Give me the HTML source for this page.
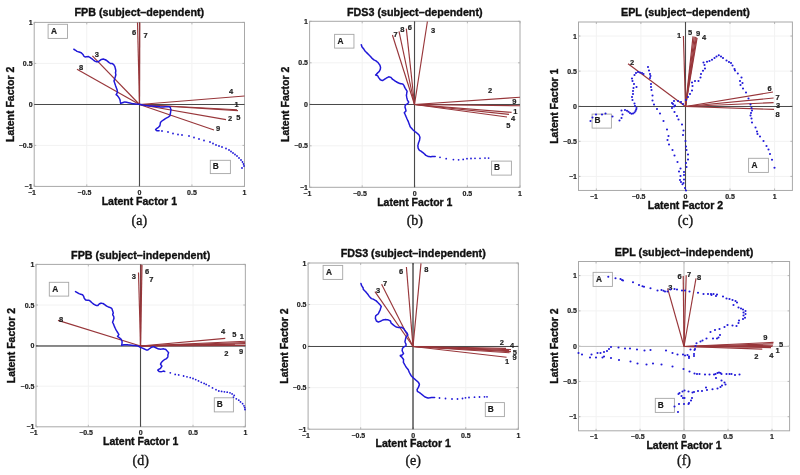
<!DOCTYPE html>
<html><head><meta charset="utf-8"><style>html,body{margin:0;padding:0;background:#fff;}svg{display:block;filter:blur(0.3px);}text{font-family:"Liberation Sans", sans-serif;} .b{stroke:#111;stroke-width:0.35px;} .t{stroke:#222;stroke-width:0.2px;}</style></head><body>
<svg width="800" height="475" viewBox="0 0 800 475">
<rect width="800" height="475" fill="#fff"/>
<g><line x1="86.78" y1="22.4" x2="86.78" y2="186.4" stroke="#f2f2f2" stroke-width="1"/><line x1="34.2" y1="145.4" x2="244.5" y2="145.4" stroke="#f2f2f2" stroke-width="1"/><line x1="139.35" y1="22.4" x2="139.35" y2="186.4" stroke="#f2f2f2" stroke-width="1"/><line x1="34.2" y1="104.4" x2="244.5" y2="104.4" stroke="#f2f2f2" stroke-width="1"/><line x1="191.93" y1="22.4" x2="191.93" y2="186.4" stroke="#f2f2f2" stroke-width="1"/><line x1="34.2" y1="63.4" x2="244.5" y2="63.4" stroke="#f2f2f2" stroke-width="1"/><rect x="34.2" y="22.4" width="210.3" height="164" fill="none" stroke="#a8a8a8" stroke-width="1"/><line x1="34.2" y1="186.4" x2="34.2" y2="184.4" stroke="#a8a8a8" stroke-width="0.8"/><line x1="34.2" y1="22.4" x2="34.2" y2="24.4" stroke="#a8a8a8" stroke-width="0.8"/><line x1="34.2" y1="186.4" x2="36.2" y2="186.4" stroke="#a8a8a8" stroke-width="0.8"/><line x1="244.5" y1="186.4" x2="242.5" y2="186.4" stroke="#a8a8a8" stroke-width="0.8"/><line x1="86.78" y1="186.4" x2="86.78" y2="184.4" stroke="#a8a8a8" stroke-width="0.8"/><line x1="86.78" y1="22.4" x2="86.78" y2="24.4" stroke="#a8a8a8" stroke-width="0.8"/><line x1="34.2" y1="145.4" x2="36.2" y2="145.4" stroke="#a8a8a8" stroke-width="0.8"/><line x1="244.5" y1="145.4" x2="242.5" y2="145.4" stroke="#a8a8a8" stroke-width="0.8"/><line x1="139.35" y1="186.4" x2="139.35" y2="184.4" stroke="#a8a8a8" stroke-width="0.8"/><line x1="139.35" y1="22.4" x2="139.35" y2="24.4" stroke="#a8a8a8" stroke-width="0.8"/><line x1="34.2" y1="104.4" x2="36.2" y2="104.4" stroke="#a8a8a8" stroke-width="0.8"/><line x1="244.5" y1="104.4" x2="242.5" y2="104.4" stroke="#a8a8a8" stroke-width="0.8"/><line x1="191.93" y1="186.4" x2="191.93" y2="184.4" stroke="#a8a8a8" stroke-width="0.8"/><line x1="191.93" y1="22.4" x2="191.93" y2="24.4" stroke="#a8a8a8" stroke-width="0.8"/><line x1="34.2" y1="63.4" x2="36.2" y2="63.4" stroke="#a8a8a8" stroke-width="0.8"/><line x1="244.5" y1="63.4" x2="242.5" y2="63.4" stroke="#a8a8a8" stroke-width="0.8"/><line x1="244.5" y1="186.4" x2="244.5" y2="184.4" stroke="#a8a8a8" stroke-width="0.8"/><line x1="244.5" y1="22.4" x2="244.5" y2="24.4" stroke="#a8a8a8" stroke-width="0.8"/><line x1="34.2" y1="22.4" x2="36.2" y2="22.4" stroke="#a8a8a8" stroke-width="0.8"/><line x1="244.5" y1="22.4" x2="242.5" y2="22.4" stroke="#a8a8a8" stroke-width="0.8"/><text class="t" x="31.9" y="194.9" font-size="7" font-weight="bold" text-anchor="middle" fill="#222">−1</text><text class="t" x="32.6" y="188.9" font-size="7" font-weight="bold" text-anchor="end" fill="#222">−1</text><text class="t" x="84.48" y="194.9" font-size="7" font-weight="bold" text-anchor="middle" fill="#222">−0.5</text><text class="t" x="32.6" y="147.9" font-size="7" font-weight="bold" text-anchor="end" fill="#222">−0.5</text><text class="t" x="139.35" y="194.9" font-size="7" font-weight="bold" text-anchor="middle" fill="#222">0</text><text class="t" x="32.6" y="106.9" font-size="7" font-weight="bold" text-anchor="end" fill="#222">0</text><text class="t" x="191.93" y="194.9" font-size="7" font-weight="bold" text-anchor="middle" fill="#222">0.5</text><text class="t" x="32.6" y="65.9" font-size="7" font-weight="bold" text-anchor="end" fill="#222">0.5</text><text class="t" x="244.5" y="194.9" font-size="7" font-weight="bold" text-anchor="middle" fill="#222">1</text><text class="t" x="32.6" y="24.9" font-size="7" font-weight="bold" text-anchor="end" fill="#222">1</text><rect x="48.1" y="24.3" width="19.4" height="14.1" fill="none" stroke="#a5a5a5" stroke-width="0.9"/><text class="t" x="51" y="33.65" font-size="8.3" font-weight="bold" fill="#1a1a1a">A</text><rect x="210.3" y="160.3" width="20.1" height="13.3" fill="none" stroke="#a5a5a5" stroke-width="0.9"/><text class="t" x="212.8" y="169.25" font-size="8.3" font-weight="bold" fill="#1a1a1a">B</text><line x1="34.2" y1="104.5" x2="244.5" y2="104.5" stroke="#4a4a4a" stroke-width="1.1"/><line x1="139.5" y1="22.4" x2="139.5" y2="186.4" stroke="#4a4a4a" stroke-width="1.1"/><line x1="139.5" y1="104.5" x2="92.4" y2="55.9" stroke="#98363a" stroke-width="1.15"/><line x1="139.5" y1="104.5" x2="77" y2="69.2" stroke="#98363a" stroke-width="1.15"/><line x1="139.5" y1="104.5" x2="137.5" y2="22.5" stroke="#98363a" stroke-width="1.15"/><line x1="139.5" y1="104.5" x2="139.8" y2="22.5" stroke="#98363a" stroke-width="1.15"/><line x1="139.5" y1="104.5" x2="244.5" y2="96" stroke="#98363a" stroke-width="1.15"/><line x1="139.5" y1="104.5" x2="237" y2="109.8" stroke="#98363a" stroke-width="1.15"/><line x1="139.5" y1="104.5" x2="238" y2="110.6" stroke="#98363a" stroke-width="1.15"/><line x1="139.5" y1="104.5" x2="226" y2="119.6" stroke="#98363a" stroke-width="1.15"/><line x1="139.5" y1="104.5" x2="214" y2="130" stroke="#98363a" stroke-width="1.15"/><text class="t" x="96.8" y="57.1" font-size="7.5" font-weight="bold" text-anchor="middle" fill="#222">3</text><text class="t" x="81.2" y="70.1" font-size="7.5" font-weight="bold" text-anchor="middle" fill="#222">8</text><text class="t" x="134" y="34.7" font-size="7.5" font-weight="bold" text-anchor="middle" fill="#222">6</text><text class="t" x="145.6" y="37.7" font-size="7.5" font-weight="bold" text-anchor="middle" fill="#222">7</text><text class="t" x="231" y="93.7" font-size="7.5" font-weight="bold" text-anchor="middle" fill="#222">4</text><text class="t" x="236.6" y="106.7" font-size="7.5" font-weight="bold" text-anchor="middle" fill="#222">1</text><text class="t" x="238.4" y="119.5" font-size="7.5" font-weight="bold" text-anchor="middle" fill="#222">5</text><text class="t" x="230" y="121.1" font-size="7.5" font-weight="bold" text-anchor="middle" fill="#222">2</text><text class="t" x="218" y="131.3" font-size="7.5" font-weight="bold" text-anchor="middle" fill="#222">9</text><polyline points="73.85,49.25 75.6,50.3 77,51.35 79.1,52.05 81.2,52.75 82.95,54.5 84,56.25 85.05,56.95 86.8,56.75 88.55,56.6 90.3,57.65 91.7,58.7 93.1,59.75 94.85,61.15 96.6,61.85 98.35,61.85 99.4,60.8 101.15,59.55 103.25,59.05 105.35,59.75 107.1,60.8 108.85,62.35 110.6,63.6 112.35,63.6 113.75,64.65 114.8,66.4 115.35,68.5 115.85,70.95 115.5,72.7 115.85,74.8 115.4,76.5 114.6,79 114,81 114.7,83.1 115.4,85.2 116.45,88 117.15,90.1 117.5,92.2 116.1,94.65 117.5,95.7 118.55,97.1 119.95,99.55 120.3,101.65 120.65,103.4 122.4,102.7 124.5,102 127.3,102.35 130.1,103.05 132.9,103.75 136.4,104.1 139.2,104.3 143,105.05 146.5,105.6 150,105.95 153.5,106.15 157,106.45 160.5,107 163.3,107 166.1,106.65 168.9,106.65 170.3,107.35 171,109.8 170.65,111.9 170.3,114 169.95,115.75 168.2,117.15 166.1,118.2 164,119.6 161.9,121 160.5,122.4 160.15,124.5 159.8,125.9 158.4,127.3 156.3,128.7 155.6,129.75 157,130.8 159.1,130.8" fill="none" stroke="#2018d8" stroke-width="1.5" stroke-dasharray="2.4 0.6" stroke-linejoin="round" stroke-linecap="round"/><circle cx="162" cy="131" r="0.9" fill="#2018d8"/><circle cx="168" cy="132" r="0.9" fill="#2018d8"/><circle cx="173" cy="133.5" r="0.9" fill="#2018d8"/><circle cx="178" cy="134.5" r="0.9" fill="#2018d8"/><circle cx="182" cy="135" r="0.9" fill="#2018d8"/><circle cx="189" cy="136" r="0.9" fill="#2018d8"/><circle cx="194" cy="137.5" r="0.9" fill="#2018d8"/><circle cx="199" cy="139" r="0.9" fill="#2018d8"/><circle cx="204" cy="140.5" r="0.9" fill="#2018d8"/><circle cx="210" cy="142" r="0.9" fill="#2018d8"/><circle cx="213" cy="143.5" r="0.9" fill="#2018d8"/><circle cx="216" cy="145" r="0.9" fill="#2018d8"/><circle cx="219" cy="146" r="0.9" fill="#2018d8"/><circle cx="222" cy="147" r="0.9" fill="#2018d8"/><circle cx="226" cy="148.5" r="0.9" fill="#2018d8"/><circle cx="229" cy="150" r="0.9" fill="#2018d8"/><circle cx="231" cy="151.5" r="0.9" fill="#2018d8"/><circle cx="233" cy="153" r="0.9" fill="#2018d8"/><circle cx="235" cy="154.5" r="0.9" fill="#2018d8"/><circle cx="237" cy="156" r="0.9" fill="#2018d8"/><circle cx="239" cy="158" r="0.9" fill="#2018d8"/><circle cx="241" cy="160" r="0.9" fill="#2018d8"/><circle cx="242.5" cy="162" r="0.9" fill="#2018d8"/><circle cx="243.5" cy="164" r="0.9" fill="#2018d8"/><circle cx="244" cy="166" r="0.9" fill="#2018d8"/><circle cx="242" cy="168" r="0.9" fill="#2018d8"/><text class="b" x="139.35" y="15.8" font-size="10.75" font-weight="bold" text-anchor="middle" fill="#111">FPB (subject–dependent)</text><text class="b" x="139.35" y="205" font-size="10.5" font-weight="bold" text-anchor="middle" fill="#111">Latent Factor 1</text><text class="b" x="0" y="0" transform="translate(14.3,104.4) rotate(-90)" font-size="10.5" font-weight="bold" text-anchor="middle" fill="#111">Latent Factor 2</text><text class="b" x="139.35" y="225" font-size="14" text-anchor="middle" fill="#1a1a1a" style="font-family:'Liberation Serif', serif">(a)</text></g>
<g><line x1="362.2" y1="21.3" x2="362.2" y2="187.3" stroke="#f2f2f2" stroke-width="1"/><line x1="309.6" y1="145.8" x2="520" y2="145.8" stroke="#f2f2f2" stroke-width="1"/><line x1="414.8" y1="21.3" x2="414.8" y2="187.3" stroke="#f2f2f2" stroke-width="1"/><line x1="309.6" y1="104.3" x2="520" y2="104.3" stroke="#f2f2f2" stroke-width="1"/><line x1="467.4" y1="21.3" x2="467.4" y2="187.3" stroke="#f2f2f2" stroke-width="1"/><line x1="309.6" y1="62.8" x2="520" y2="62.8" stroke="#f2f2f2" stroke-width="1"/><rect x="309.6" y="21.3" width="210.4" height="166" fill="none" stroke="#a8a8a8" stroke-width="1"/><line x1="309.6" y1="187.3" x2="309.6" y2="185.3" stroke="#a8a8a8" stroke-width="0.8"/><line x1="309.6" y1="21.3" x2="309.6" y2="23.3" stroke="#a8a8a8" stroke-width="0.8"/><line x1="309.6" y1="187.3" x2="311.6" y2="187.3" stroke="#a8a8a8" stroke-width="0.8"/><line x1="520" y1="187.3" x2="518" y2="187.3" stroke="#a8a8a8" stroke-width="0.8"/><line x1="362.2" y1="187.3" x2="362.2" y2="185.3" stroke="#a8a8a8" stroke-width="0.8"/><line x1="362.2" y1="21.3" x2="362.2" y2="23.3" stroke="#a8a8a8" stroke-width="0.8"/><line x1="309.6" y1="145.8" x2="311.6" y2="145.8" stroke="#a8a8a8" stroke-width="0.8"/><line x1="520" y1="145.8" x2="518" y2="145.8" stroke="#a8a8a8" stroke-width="0.8"/><line x1="414.8" y1="187.3" x2="414.8" y2="185.3" stroke="#a8a8a8" stroke-width="0.8"/><line x1="414.8" y1="21.3" x2="414.8" y2="23.3" stroke="#a8a8a8" stroke-width="0.8"/><line x1="309.6" y1="104.3" x2="311.6" y2="104.3" stroke="#a8a8a8" stroke-width="0.8"/><line x1="520" y1="104.3" x2="518" y2="104.3" stroke="#a8a8a8" stroke-width="0.8"/><line x1="467.4" y1="187.3" x2="467.4" y2="185.3" stroke="#a8a8a8" stroke-width="0.8"/><line x1="467.4" y1="21.3" x2="467.4" y2="23.3" stroke="#a8a8a8" stroke-width="0.8"/><line x1="309.6" y1="62.8" x2="311.6" y2="62.8" stroke="#a8a8a8" stroke-width="0.8"/><line x1="520" y1="62.8" x2="518" y2="62.8" stroke="#a8a8a8" stroke-width="0.8"/><line x1="520" y1="187.3" x2="520" y2="185.3" stroke="#a8a8a8" stroke-width="0.8"/><line x1="520" y1="21.3" x2="520" y2="23.3" stroke="#a8a8a8" stroke-width="0.8"/><line x1="309.6" y1="21.3" x2="311.6" y2="21.3" stroke="#a8a8a8" stroke-width="0.8"/><line x1="520" y1="21.3" x2="518" y2="21.3" stroke="#a8a8a8" stroke-width="0.8"/><text class="t" x="307.3" y="195.8" font-size="7" font-weight="bold" text-anchor="middle" fill="#222">−1</text><text class="t" x="308" y="189.8" font-size="7" font-weight="bold" text-anchor="end" fill="#222">−1</text><text class="t" x="359.9" y="195.8" font-size="7" font-weight="bold" text-anchor="middle" fill="#222">−0.5</text><text class="t" x="308" y="148.3" font-size="7" font-weight="bold" text-anchor="end" fill="#222">−0.5</text><text class="t" x="414.8" y="195.8" font-size="7" font-weight="bold" text-anchor="middle" fill="#222">0</text><text class="t" x="308" y="106.8" font-size="7" font-weight="bold" text-anchor="end" fill="#222">0</text><text class="t" x="467.4" y="195.8" font-size="7" font-weight="bold" text-anchor="middle" fill="#222">0.5</text><text class="t" x="308" y="65.3" font-size="7" font-weight="bold" text-anchor="end" fill="#222">0.5</text><text class="t" x="520" y="195.8" font-size="7" font-weight="bold" text-anchor="middle" fill="#222">1</text><text class="t" x="308" y="23.8" font-size="7" font-weight="bold" text-anchor="end" fill="#222">1</text><rect x="334.6" y="34.35" width="19.35" height="13.75" fill="none" stroke="#a5a5a5" stroke-width="0.9"/><text class="t" x="337.5" y="43.52" font-size="8.3" font-weight="bold" fill="#1a1a1a">A</text><rect x="491.6" y="161.1" width="19.8" height="14" fill="none" stroke="#a5a5a5" stroke-width="0.9"/><text class="t" x="494.1" y="170.4" font-size="8.3" font-weight="bold" fill="#1a1a1a">B</text><line x1="309.6" y1="104.5" x2="520" y2="104.5" stroke="#4a4a4a" stroke-width="1.1"/><line x1="414.5" y1="21.3" x2="414.5" y2="187.3" stroke="#4a4a4a" stroke-width="1.1"/><line x1="414.5" y1="104.5" x2="392.4" y2="35" stroke="#98363a" stroke-width="1.15"/><line x1="414.5" y1="104.5" x2="399" y2="31.4" stroke="#98363a" stroke-width="1.15"/><line x1="414.5" y1="104.5" x2="406.3" y2="28.6" stroke="#98363a" stroke-width="1.15"/><line x1="414.5" y1="104.5" x2="427.4" y2="21.5" stroke="#98363a" stroke-width="1.15"/><line x1="414.5" y1="104.5" x2="520" y2="97.2" stroke="#98363a" stroke-width="1.15"/><line x1="414.5" y1="104.5" x2="520" y2="105.8" stroke="#98363a" stroke-width="1.15"/><line x1="414.5" y1="104.5" x2="511.6" y2="112.4" stroke="#98363a" stroke-width="1.15"/><line x1="414.5" y1="104.5" x2="509" y2="114.4" stroke="#98363a" stroke-width="1.15"/><line x1="414.5" y1="104.5" x2="507" y2="117" stroke="#98363a" stroke-width="1.15"/><text class="t" x="395.7" y="36.7" font-size="7.5" font-weight="bold" text-anchor="middle" fill="#222">7</text><text class="t" x="402.4" y="32.4" font-size="7.5" font-weight="bold" text-anchor="middle" fill="#222">8</text><text class="t" x="409.9" y="29.7" font-size="7.5" font-weight="bold" text-anchor="middle" fill="#222">6</text><text class="t" x="433" y="32.7" font-size="7.5" font-weight="bold" text-anchor="middle" fill="#222">3</text><text class="t" x="490" y="92.7" font-size="7.5" font-weight="bold" text-anchor="middle" fill="#222">2</text><text class="t" x="514.3" y="104.4" font-size="7.5" font-weight="bold" text-anchor="middle" fill="#222">9</text><text class="t" x="515.4" y="114.3" font-size="7.5" font-weight="bold" text-anchor="middle" fill="#222">1</text><text class="t" x="513" y="120.7" font-size="7.5" font-weight="bold" text-anchor="middle" fill="#222">4</text><text class="t" x="508.4" y="128.3" font-size="7.5" font-weight="bold" text-anchor="middle" fill="#222">5</text><polyline points="361.3,44.8 362,46.9 363.75,49 364.8,50.75 366.9,52.85 369,54.95 370.75,56.7 372.15,58.45 373.9,59.85 376,60.9 378.1,62.65 379.85,65.1 380.55,67.2 380.3,69.3 379.5,70.9 378.4,72.2 377,73.6 375.6,75 377.7,75.7 378.75,77.8 380.5,79.9 382.6,80.6 384.7,79.2 386.8,77.8 388.9,76.75 391,77.45 392.4,79.2 394.5,80.6 396.6,82 398.7,83 400.8,83.75 402.9,84.1 403.95,85.5 404.65,87.25 405.7,89 407.1,91.1 406.75,93.2 406.4,95.3 406.75,97.4 407.4,100.1 408.8,102.2 407.4,103.95 405.3,105 404.95,107.1 405.65,109.2 406,110.95 404.25,112.7 404.95,114.1 406,116.55 407.05,119 408.1,121.1 409.15,123.9 410.2,126.7 412.6,129.5 415,131.6 416.8,133 418.9,134.75 419.95,137.2 419.6,140 418.55,142.8 417.85,145.6 418.2,148.4 419.25,150.15 421,151.2 423.8,153.3 425.9,155.4 428,156.45 430.8,156.8 432.9,156.45 435.7,156.45" fill="none" stroke="#2018d8" stroke-width="1.5" stroke-dasharray="2.4 0.6" stroke-linejoin="round" stroke-linecap="round"/><circle cx="440" cy="157.3" r="0.9" fill="#2018d8"/><circle cx="446.2" cy="158.7" r="0.9" fill="#2018d8"/><circle cx="453.4" cy="159.6" r="0.9" fill="#2018d8"/><circle cx="458.6" cy="159.8" r="0.9" fill="#2018d8"/><circle cx="463.2" cy="159.4" r="0.9" fill="#2018d8"/><circle cx="467" cy="158.7" r="0.9" fill="#2018d8"/><circle cx="471" cy="158.5" r="0.9" fill="#2018d8"/><circle cx="475" cy="158.3" r="0.9" fill="#2018d8"/><circle cx="480" cy="158.3" r="0.9" fill="#2018d8"/><circle cx="485" cy="158.1" r="0.9" fill="#2018d8"/><circle cx="488.6" cy="158.1" r="0.9" fill="#2018d8"/><text class="b" x="414.8" y="15.8" font-size="10.75" font-weight="bold" text-anchor="middle" fill="#111">FDS3 (subject–dependent)</text><text class="b" x="414.8" y="205.5" font-size="10.5" font-weight="bold" text-anchor="middle" fill="#111">Latent Factor 1</text><text class="b" x="0" y="0" transform="translate(289.3,104.3) rotate(-90)" font-size="10.5" font-weight="bold" text-anchor="middle" fill="#111">Latent Factor 2</text><text class="b" x="414.8" y="225" font-size="14" text-anchor="middle" fill="#1a1a1a" style="font-family:'Liberation Serif', serif">(b)</text></g>
<g><line x1="596.33" y1="22" x2="596.33" y2="190.45" stroke="#f2f2f2" stroke-width="1"/><line x1="578.5" y1="176.41" x2="792.4" y2="176.41" stroke="#f2f2f2" stroke-width="1"/><line x1="640.89" y1="22" x2="640.89" y2="190.45" stroke="#f2f2f2" stroke-width="1"/><line x1="578.5" y1="141.32" x2="792.4" y2="141.32" stroke="#f2f2f2" stroke-width="1"/><line x1="685.45" y1="22" x2="685.45" y2="190.45" stroke="#f2f2f2" stroke-width="1"/><line x1="578.5" y1="106.22" x2="792.4" y2="106.22" stroke="#f2f2f2" stroke-width="1"/><line x1="730.01" y1="22" x2="730.01" y2="190.45" stroke="#f2f2f2" stroke-width="1"/><line x1="578.5" y1="71.13" x2="792.4" y2="71.13" stroke="#f2f2f2" stroke-width="1"/><line x1="774.58" y1="22" x2="774.58" y2="190.45" stroke="#f2f2f2" stroke-width="1"/><line x1="578.5" y1="36.04" x2="792.4" y2="36.04" stroke="#f2f2f2" stroke-width="1"/><rect x="578.5" y="22" width="213.9" height="168.45" fill="none" stroke="#a8a8a8" stroke-width="1"/><line x1="596.33" y1="190.45" x2="596.33" y2="188.45" stroke="#a8a8a8" stroke-width="0.8"/><line x1="596.33" y1="22" x2="596.33" y2="24" stroke="#a8a8a8" stroke-width="0.8"/><line x1="578.5" y1="176.41" x2="580.5" y2="176.41" stroke="#a8a8a8" stroke-width="0.8"/><line x1="792.4" y1="176.41" x2="790.4" y2="176.41" stroke="#a8a8a8" stroke-width="0.8"/><line x1="640.89" y1="190.45" x2="640.89" y2="188.45" stroke="#a8a8a8" stroke-width="0.8"/><line x1="640.89" y1="22" x2="640.89" y2="24" stroke="#a8a8a8" stroke-width="0.8"/><line x1="578.5" y1="141.32" x2="580.5" y2="141.32" stroke="#a8a8a8" stroke-width="0.8"/><line x1="792.4" y1="141.32" x2="790.4" y2="141.32" stroke="#a8a8a8" stroke-width="0.8"/><line x1="685.45" y1="190.45" x2="685.45" y2="188.45" stroke="#a8a8a8" stroke-width="0.8"/><line x1="685.45" y1="22" x2="685.45" y2="24" stroke="#a8a8a8" stroke-width="0.8"/><line x1="578.5" y1="106.22" x2="580.5" y2="106.22" stroke="#a8a8a8" stroke-width="0.8"/><line x1="792.4" y1="106.22" x2="790.4" y2="106.22" stroke="#a8a8a8" stroke-width="0.8"/><line x1="730.01" y1="190.45" x2="730.01" y2="188.45" stroke="#a8a8a8" stroke-width="0.8"/><line x1="730.01" y1="22" x2="730.01" y2="24" stroke="#a8a8a8" stroke-width="0.8"/><line x1="578.5" y1="71.13" x2="580.5" y2="71.13" stroke="#a8a8a8" stroke-width="0.8"/><line x1="792.4" y1="71.13" x2="790.4" y2="71.13" stroke="#a8a8a8" stroke-width="0.8"/><line x1="774.58" y1="190.45" x2="774.58" y2="188.45" stroke="#a8a8a8" stroke-width="0.8"/><line x1="774.58" y1="22" x2="774.58" y2="24" stroke="#a8a8a8" stroke-width="0.8"/><line x1="578.5" y1="36.04" x2="580.5" y2="36.04" stroke="#a8a8a8" stroke-width="0.8"/><line x1="792.4" y1="36.04" x2="790.4" y2="36.04" stroke="#a8a8a8" stroke-width="0.8"/><text class="t" x="594.03" y="198.95" font-size="7" font-weight="bold" text-anchor="middle" fill="#222">−1</text><text class="t" x="576.9" y="178.91" font-size="7" font-weight="bold" text-anchor="end" fill="#222">−1</text><text class="t" x="638.59" y="198.95" font-size="7" font-weight="bold" text-anchor="middle" fill="#222">−0.5</text><text class="t" x="576.9" y="143.82" font-size="7" font-weight="bold" text-anchor="end" fill="#222">−0.5</text><text class="t" x="685.45" y="198.95" font-size="7" font-weight="bold" text-anchor="middle" fill="#222">0</text><text class="t" x="576.9" y="108.72" font-size="7" font-weight="bold" text-anchor="end" fill="#222">0</text><text class="t" x="730.01" y="198.95" font-size="7" font-weight="bold" text-anchor="middle" fill="#222">0.5</text><text class="t" x="576.9" y="73.63" font-size="7" font-weight="bold" text-anchor="end" fill="#222">0.5</text><text class="t" x="774.58" y="198.95" font-size="7" font-weight="bold" text-anchor="middle" fill="#222">1</text><text class="t" x="576.9" y="38.54" font-size="7" font-weight="bold" text-anchor="end" fill="#222">1</text><rect x="748.6" y="158.3" width="19.8" height="14.1" fill="none" stroke="#a5a5a5" stroke-width="0.9"/><text class="t" x="751.5" y="167.65" font-size="8.3" font-weight="bold" fill="#1a1a1a">A</text><rect x="592.1" y="114.1" width="19.3" height="14" fill="none" stroke="#a5a5a5" stroke-width="0.9"/><text class="t" x="594.6" y="123.4" font-size="8.3" font-weight="bold" fill="#1a1a1a">B</text><line x1="578.5" y1="106.5" x2="792.4" y2="106.5" stroke="#4a4a4a" stroke-width="1.1"/><line x1="685.5" y1="22" x2="685.5" y2="190.45" stroke="#4a4a4a" stroke-width="1.1"/><line x1="685.5" y1="106.5" x2="683.4" y2="36" stroke="#98363a" stroke-width="1.15"/><line x1="685.5" y1="106.5" x2="693" y2="36.4" stroke="#98363a" stroke-width="1.15"/><line x1="685.5" y1="106.5" x2="694.2" y2="36.6" stroke="#98363a" stroke-width="1.15"/><line x1="685.5" y1="106.5" x2="695.4" y2="36.8" stroke="#98363a" stroke-width="1.15"/><line x1="685.5" y1="106.5" x2="696.3" y2="37.3" stroke="#98363a" stroke-width="1.15"/><line x1="685.5" y1="106.5" x2="697.1" y2="37.9" stroke="#98363a" stroke-width="1.15"/><line x1="685.5" y1="106.5" x2="628" y2="63.75" stroke="#98363a" stroke-width="1.15"/><line x1="685.5" y1="106.5" x2="773" y2="92" stroke="#98363a" stroke-width="1.15"/><line x1="685.5" y1="106.5" x2="773.6" y2="98" stroke="#98363a" stroke-width="1.15"/><line x1="685.5" y1="106.5" x2="773.6" y2="102.6" stroke="#98363a" stroke-width="1.15"/><line x1="685.5" y1="106.5" x2="774" y2="109.4" stroke="#98363a" stroke-width="1.15"/><text class="t" x="679" y="37.7" font-size="7.5" font-weight="bold" text-anchor="middle" fill="#222">1</text><text class="t" x="690.1" y="35.3" font-size="7.5" font-weight="bold" text-anchor="middle" fill="#222">5</text><text class="t" x="698" y="36.45" font-size="7.5" font-weight="bold" text-anchor="middle" fill="#222">9</text><text class="t" x="704" y="40.2" font-size="7.5" font-weight="bold" text-anchor="middle" fill="#222">4</text><text class="t" x="632" y="64.7" font-size="7.5" font-weight="bold" text-anchor="middle" fill="#222">2</text><text class="t" x="769.6" y="90.7" font-size="7.5" font-weight="bold" text-anchor="middle" fill="#222">6</text><text class="t" x="777.6" y="100.3" font-size="7.5" font-weight="bold" text-anchor="middle" fill="#222">7</text><text class="t" x="778" y="108.3" font-size="7.5" font-weight="bold" text-anchor="middle" fill="#222">3</text><text class="t" x="777.6" y="116.7" font-size="7.5" font-weight="bold" text-anchor="middle" fill="#222">8</text><circle cx="590.5" cy="121" r="1.05" fill="#2018d8"/><circle cx="592.5" cy="117.5" r="1.05" fill="#2018d8"/><circle cx="596" cy="114.5" r="1.05" fill="#2018d8"/><circle cx="602" cy="114.5" r="1.05" fill="#2018d8"/><circle cx="605.5" cy="113.5" r="1.05" fill="#2018d8"/><circle cx="612.5" cy="116.5" r="1.05" fill="#2018d8"/><circle cx="619.5" cy="120.5" r="1.05" fill="#2018d8"/><circle cx="621.5" cy="118" r="1.05" fill="#2018d8"/><circle cx="622.5" cy="114.5" r="1.05" fill="#2018d8"/><circle cx="621.5" cy="110.5" r="1.05" fill="#2018d8"/><circle cx="625" cy="110" r="1.05" fill="#2018d8"/><circle cx="627" cy="110.8" r="1.05" fill="#2018d8"/><circle cx="628.5" cy="111.8" r="1.05" fill="#2018d8"/><circle cx="630" cy="113" r="1.05" fill="#2018d8"/><circle cx="631.5" cy="113.8" r="1.05" fill="#2018d8"/><circle cx="633" cy="113.5" r="1.05" fill="#2018d8"/><circle cx="634.5" cy="112.5" r="1.05" fill="#2018d8"/><circle cx="635.5" cy="111" r="1.05" fill="#2018d8"/><circle cx="636.2" cy="109.5" r="1.05" fill="#2018d8"/><circle cx="636.5" cy="108" r="1.05" fill="#2018d8"/><circle cx="635" cy="106" r="1.05" fill="#2018d8"/><circle cx="634.5" cy="103.5" r="1.05" fill="#2018d8"/><circle cx="632.5" cy="100" r="1.05" fill="#2018d8"/><circle cx="632" cy="97" r="1.05" fill="#2018d8"/><circle cx="633" cy="94" r="1.05" fill="#2018d8"/><circle cx="633" cy="91" r="1.05" fill="#2018d8"/><circle cx="633.5" cy="88" r="1.05" fill="#2018d8"/><circle cx="636.5" cy="87" r="1.05" fill="#2018d8"/><circle cx="634" cy="84" r="1.05" fill="#2018d8"/><circle cx="632.5" cy="81" r="1.05" fill="#2018d8"/><circle cx="632" cy="78.5" r="1.05" fill="#2018d8"/><circle cx="634.5" cy="75" r="1.05" fill="#2018d8"/><circle cx="636" cy="73" r="1.05" fill="#2018d8"/><circle cx="638" cy="72" r="1.05" fill="#2018d8"/><circle cx="640" cy="72.5" r="1.05" fill="#2018d8"/><circle cx="642" cy="73" r="1.05" fill="#2018d8"/><circle cx="643.5" cy="74" r="1.05" fill="#2018d8"/><circle cx="648" cy="67" r="1.05" fill="#2018d8"/><circle cx="649" cy="70.5" r="1.05" fill="#2018d8"/><circle cx="650" cy="74" r="1.05" fill="#2018d8"/><circle cx="650.5" cy="76" r="1.05" fill="#2018d8"/><circle cx="650" cy="78" r="1.05" fill="#2018d8"/><circle cx="651" cy="84" r="1.05" fill="#2018d8"/><circle cx="651" cy="87" r="1.05" fill="#2018d8"/><circle cx="651.5" cy="90" r="1.05" fill="#2018d8"/><circle cx="652.5" cy="95.5" r="1.05" fill="#2018d8"/><circle cx="652.5" cy="100.5" r="1.05" fill="#2018d8"/><circle cx="654" cy="104.5" r="1.05" fill="#2018d8"/><circle cx="657" cy="109" r="1.05" fill="#2018d8"/><circle cx="660" cy="113.5" r="1.05" fill="#2018d8"/><circle cx="663.5" cy="121" r="1.05" fill="#2018d8"/><circle cx="667" cy="129.5" r="1.05" fill="#2018d8"/><circle cx="668.5" cy="136" r="1.05" fill="#2018d8"/><circle cx="667.5" cy="140" r="1.05" fill="#2018d8"/><circle cx="669" cy="144.5" r="1.05" fill="#2018d8"/><circle cx="672.5" cy="150" r="1.05" fill="#2018d8"/><circle cx="674.5" cy="155.5" r="1.05" fill="#2018d8"/><circle cx="677.5" cy="162" r="1.05" fill="#2018d8"/><circle cx="680.5" cy="168.5" r="1.05" fill="#2018d8"/><circle cx="679" cy="171.5" r="1.05" fill="#2018d8"/><circle cx="680.5" cy="176" r="1.05" fill="#2018d8"/><circle cx="680" cy="180" r="1.05" fill="#2018d8"/><circle cx="681" cy="182" r="1.05" fill="#2018d8"/><circle cx="682.5" cy="184.3" r="1.05" fill="#2018d8"/><circle cx="685" cy="188" r="1.05" fill="#2018d8"/><circle cx="686" cy="190.5" r="1.05" fill="#2018d8"/><circle cx="686.5" cy="167" r="1.05" fill="#2018d8"/><circle cx="686" cy="163" r="1.05" fill="#2018d8"/><circle cx="688" cy="159.5" r="1.05" fill="#2018d8"/><circle cx="688" cy="154.5" r="1.05" fill="#2018d8"/><circle cx="686.5" cy="150" r="1.05" fill="#2018d8"/><circle cx="686" cy="146.5" r="1.05" fill="#2018d8"/><circle cx="685.5" cy="141" r="1.05" fill="#2018d8"/><circle cx="683" cy="135" r="1.05" fill="#2018d8"/><circle cx="683.5" cy="130.5" r="1.05" fill="#2018d8"/><circle cx="682" cy="124.5" r="1.05" fill="#2018d8"/><circle cx="678.5" cy="119.5" r="1.05" fill="#2018d8"/><circle cx="677" cy="116" r="1.05" fill="#2018d8"/><circle cx="674.5" cy="112" r="1.05" fill="#2018d8"/><circle cx="672" cy="108" r="1.05" fill="#2018d8"/><circle cx="674" cy="106.5" r="1.05" fill="#2018d8"/><circle cx="675" cy="105.5" r="1.05" fill="#2018d8"/><circle cx="673" cy="104" r="1.05" fill="#2018d8"/><circle cx="672" cy="103" r="1.05" fill="#2018d8"/><circle cx="674" cy="101" r="1.05" fill="#2018d8"/><circle cx="678" cy="101" r="1.05" fill="#2018d8"/><circle cx="681" cy="102" r="1.05" fill="#2018d8"/><circle cx="683" cy="104" r="1.05" fill="#2018d8"/><circle cx="686" cy="100" r="1.05" fill="#2018d8"/><circle cx="688" cy="97" r="1.05" fill="#2018d8"/><circle cx="690" cy="94" r="1.05" fill="#2018d8"/><circle cx="692" cy="90.5" r="1.05" fill="#2018d8"/><circle cx="692.5" cy="86" r="1.05" fill="#2018d8"/><circle cx="692" cy="82.5" r="1.05" fill="#2018d8"/><circle cx="695" cy="81" r="1.05" fill="#2018d8"/><circle cx="698.5" cy="81" r="1.05" fill="#2018d8"/><circle cx="700.5" cy="77.5" r="1.05" fill="#2018d8"/><circle cx="701" cy="74" r="1.05" fill="#2018d8"/><circle cx="703" cy="70.8" r="1.05" fill="#2018d8"/><circle cx="705" cy="68.5" r="1.05" fill="#2018d8"/><circle cx="704.5" cy="65" r="1.05" fill="#2018d8"/><circle cx="703.5" cy="62.5" r="1.05" fill="#2018d8"/><circle cx="707" cy="61.8" r="1.05" fill="#2018d8"/><circle cx="709.5" cy="61" r="1.05" fill="#2018d8"/><circle cx="712" cy="59.8" r="1.05" fill="#2018d8"/><circle cx="714.5" cy="58" r="1.05" fill="#2018d8"/><circle cx="716.5" cy="56.5" r="1.05" fill="#2018d8"/><circle cx="718.8" cy="55.3" r="1.05" fill="#2018d8"/><circle cx="721" cy="56.5" r="1.05" fill="#2018d8"/><circle cx="723" cy="58" r="1.05" fill="#2018d8"/><circle cx="726.5" cy="60.5" r="1.05" fill="#2018d8"/><circle cx="729" cy="62" r="1.05" fill="#2018d8"/><circle cx="731" cy="63" r="1.05" fill="#2018d8"/><circle cx="732.5" cy="65.5" r="1.05" fill="#2018d8"/><circle cx="734.5" cy="69" r="1.05" fill="#2018d8"/><circle cx="735" cy="70.5" r="1.05" fill="#2018d8"/><circle cx="737.8" cy="73.5" r="1.05" fill="#2018d8"/><circle cx="741.5" cy="77.5" r="1.05" fill="#2018d8"/><circle cx="740" cy="81" r="1.05" fill="#2018d8"/><circle cx="742.5" cy="83" r="1.05" fill="#2018d8"/><circle cx="740.5" cy="85" r="1.05" fill="#2018d8"/><circle cx="743" cy="88.5" r="1.05" fill="#2018d8"/><circle cx="746" cy="92.5" r="1.05" fill="#2018d8"/><circle cx="748.5" cy="98.5" r="1.05" fill="#2018d8"/><circle cx="750.5" cy="104.5" r="1.05" fill="#2018d8"/><circle cx="751.5" cy="108" r="1.05" fill="#2018d8"/><circle cx="752" cy="110.5" r="1.05" fill="#2018d8"/><circle cx="751" cy="113" r="1.05" fill="#2018d8"/><circle cx="750.5" cy="115.5" r="1.05" fill="#2018d8"/><circle cx="751.5" cy="118.5" r="1.05" fill="#2018d8"/><circle cx="752" cy="122.5" r="1.05" fill="#2018d8"/><circle cx="755.5" cy="127.5" r="1.05" fill="#2018d8"/><circle cx="757" cy="131.5" r="1.05" fill="#2018d8"/><circle cx="757.5" cy="134" r="1.05" fill="#2018d8"/><circle cx="760" cy="136.5" r="1.05" fill="#2018d8"/><circle cx="763.5" cy="141" r="1.05" fill="#2018d8"/><circle cx="766.5" cy="146" r="1.05" fill="#2018d8"/><circle cx="768.5" cy="149.5" r="1.05" fill="#2018d8"/><circle cx="770" cy="154" r="1.05" fill="#2018d8"/><circle cx="772" cy="159.8" r="1.05" fill="#2018d8"/><circle cx="774.5" cy="167.8" r="1.05" fill="#2018d8"/><circle cx="684" cy="172" r="1.05" fill="#2018d8"/><circle cx="684" cy="175" r="1.05" fill="#2018d8"/><circle cx="684" cy="179.5" r="1.05" fill="#2018d8"/><circle cx="683.5" cy="183" r="1.05" fill="#2018d8"/><text class="b" x="685.45" y="15.8" font-size="10.75" font-weight="bold" text-anchor="middle" fill="#111">EPL (subject–dependent)</text><text class="b" x="685.45" y="209" font-size="10.5" font-weight="bold" text-anchor="middle" fill="#111">Latent Factor 2</text><text class="b" x="0" y="0" transform="translate(558.3,106.22) rotate(-90)" font-size="10.5" font-weight="bold" text-anchor="middle" fill="#111">Latent Factor 1</text><text class="b" x="685.45" y="225.3" font-size="14" text-anchor="middle" fill="#1a1a1a" style="font-family:'Liberation Serif', serif">(c)</text></g>
<g><line x1="88.34" y1="264.4" x2="88.34" y2="426.8" stroke="#f2f2f2" stroke-width="1"/><line x1="36" y1="386.2" x2="245.35" y2="386.2" stroke="#f2f2f2" stroke-width="1"/><line x1="140.68" y1="264.4" x2="140.68" y2="426.8" stroke="#f2f2f2" stroke-width="1"/><line x1="36" y1="345.6" x2="245.35" y2="345.6" stroke="#f2f2f2" stroke-width="1"/><line x1="193.01" y1="264.4" x2="193.01" y2="426.8" stroke="#f2f2f2" stroke-width="1"/><line x1="36" y1="305" x2="245.35" y2="305" stroke="#f2f2f2" stroke-width="1"/><rect x="36" y="264.4" width="209.35" height="162.4" fill="none" stroke="#a8a8a8" stroke-width="1"/><line x1="36" y1="426.8" x2="36" y2="424.8" stroke="#a8a8a8" stroke-width="0.8"/><line x1="36" y1="264.4" x2="36" y2="266.4" stroke="#a8a8a8" stroke-width="0.8"/><line x1="36" y1="426.8" x2="38" y2="426.8" stroke="#a8a8a8" stroke-width="0.8"/><line x1="245.35" y1="426.8" x2="243.35" y2="426.8" stroke="#a8a8a8" stroke-width="0.8"/><line x1="88.34" y1="426.8" x2="88.34" y2="424.8" stroke="#a8a8a8" stroke-width="0.8"/><line x1="88.34" y1="264.4" x2="88.34" y2="266.4" stroke="#a8a8a8" stroke-width="0.8"/><line x1="36" y1="386.2" x2="38" y2="386.2" stroke="#a8a8a8" stroke-width="0.8"/><line x1="245.35" y1="386.2" x2="243.35" y2="386.2" stroke="#a8a8a8" stroke-width="0.8"/><line x1="140.68" y1="426.8" x2="140.68" y2="424.8" stroke="#a8a8a8" stroke-width="0.8"/><line x1="140.68" y1="264.4" x2="140.68" y2="266.4" stroke="#a8a8a8" stroke-width="0.8"/><line x1="36" y1="345.6" x2="38" y2="345.6" stroke="#a8a8a8" stroke-width="0.8"/><line x1="245.35" y1="345.6" x2="243.35" y2="345.6" stroke="#a8a8a8" stroke-width="0.8"/><line x1="193.01" y1="426.8" x2="193.01" y2="424.8" stroke="#a8a8a8" stroke-width="0.8"/><line x1="193.01" y1="264.4" x2="193.01" y2="266.4" stroke="#a8a8a8" stroke-width="0.8"/><line x1="36" y1="305" x2="38" y2="305" stroke="#a8a8a8" stroke-width="0.8"/><line x1="245.35" y1="305" x2="243.35" y2="305" stroke="#a8a8a8" stroke-width="0.8"/><line x1="245.35" y1="426.8" x2="245.35" y2="424.8" stroke="#a8a8a8" stroke-width="0.8"/><line x1="245.35" y1="264.4" x2="245.35" y2="266.4" stroke="#a8a8a8" stroke-width="0.8"/><line x1="36" y1="264.4" x2="38" y2="264.4" stroke="#a8a8a8" stroke-width="0.8"/><line x1="245.35" y1="264.4" x2="243.35" y2="264.4" stroke="#a8a8a8" stroke-width="0.8"/><text class="t" x="33.7" y="435.3" font-size="7" font-weight="bold" text-anchor="middle" fill="#222">−1</text><text class="t" x="34.4" y="429.3" font-size="7" font-weight="bold" text-anchor="end" fill="#222">−1</text><text class="t" x="86.04" y="435.3" font-size="7" font-weight="bold" text-anchor="middle" fill="#222">−0.5</text><text class="t" x="34.4" y="388.7" font-size="7" font-weight="bold" text-anchor="end" fill="#222">−0.5</text><text class="t" x="140.68" y="435.3" font-size="7" font-weight="bold" text-anchor="middle" fill="#222">0</text><text class="t" x="34.4" y="348.1" font-size="7" font-weight="bold" text-anchor="end" fill="#222">0</text><text class="t" x="193.01" y="435.3" font-size="7" font-weight="bold" text-anchor="middle" fill="#222">0.5</text><text class="t" x="34.4" y="307.5" font-size="7" font-weight="bold" text-anchor="end" fill="#222">0.5</text><text class="t" x="245.35" y="435.3" font-size="7" font-weight="bold" text-anchor="middle" fill="#222">1</text><text class="t" x="34.4" y="266.9" font-size="7" font-weight="bold" text-anchor="end" fill="#222">1</text><rect x="49.3" y="282.3" width="19.4" height="13.8" fill="none" stroke="#a5a5a5" stroke-width="0.9"/><text class="t" x="52.2" y="291.5" font-size="8.3" font-weight="bold" fill="#1a1a1a">A</text><rect x="214.3" y="397.8" width="19.1" height="14.1" fill="none" stroke="#a5a5a5" stroke-width="0.9"/><text class="t" x="216.8" y="407.15" font-size="8.3" font-weight="bold" fill="#1a1a1a">B</text><line x1="36" y1="346" x2="245.35" y2="346" stroke="#1a1a1a" stroke-width="1.1"/><line x1="140.5" y1="264.4" x2="140.5" y2="426.8" stroke="#4a4a4a" stroke-width="1.1"/><line x1="140.5" y1="346" x2="138.5" y2="272.5" stroke="#98363a" stroke-width="1.15"/><line x1="140.5" y1="346" x2="141" y2="264.4" stroke="#98363a" stroke-width="1.15"/><line x1="140.5" y1="346" x2="142" y2="265" stroke="#98363a" stroke-width="1.15"/><line x1="140.5" y1="346" x2="58" y2="320.4" stroke="#98363a" stroke-width="1.15"/><line x1="140.5" y1="346" x2="225.3" y2="338.4" stroke="#98363a" stroke-width="1.15"/><line x1="140.5" y1="346" x2="245.3" y2="341.3" stroke="#98363a" stroke-width="1.15"/><line x1="140.5" y1="346" x2="245.3" y2="342.5" stroke="#98363a" stroke-width="1.15"/><line x1="140.5" y1="346" x2="235" y2="344.3" stroke="#98363a" stroke-width="1.15"/><line x1="140.5" y1="346" x2="245.3" y2="343.6" stroke="#98363a" stroke-width="1.15"/><line x1="140.5" y1="346" x2="245.3" y2="345.4" stroke="#98363a" stroke-width="1.15"/><text class="t" x="133.8" y="279.1" font-size="7.5" font-weight="bold" text-anchor="middle" fill="#222">3</text><text class="t" x="147" y="274.3" font-size="7.5" font-weight="bold" text-anchor="middle" fill="#222">6</text><text class="t" x="151.4" y="281.7" font-size="7.5" font-weight="bold" text-anchor="middle" fill="#222">7</text><text class="t" x="61" y="322.3" font-size="7.5" font-weight="bold" text-anchor="middle" fill="#222">8</text><text class="t" x="223" y="333.7" font-size="7.5" font-weight="bold" text-anchor="middle" fill="#222">4</text><text class="t" x="234.3" y="337.1" font-size="7.5" font-weight="bold" text-anchor="middle" fill="#222">5</text><text class="t" x="241.8" y="338.6" font-size="7.5" font-weight="bold" text-anchor="middle" fill="#222">1</text><text class="t" x="226.4" y="355.8" font-size="7.5" font-weight="bold" text-anchor="middle" fill="#222">2</text><text class="t" x="241" y="354.3" font-size="7.5" font-weight="bold" text-anchor="middle" fill="#222">9</text><polyline points="75.5,291.55 77.25,292.6 79,293.65 80.75,294.35 82.5,294.7 83.55,296.1 84.25,298.2 85.65,299.95 87.4,300.3 89.15,300.3 90.55,301.35 91.95,302.75 93.7,304.15 95.8,305.35 97.9,305.55 98.95,304.15 100.7,303.25 102.8,303.45 104.55,304.5 106.3,305.9 108.4,306.95 110.5,307.65 111.9,308.7 112.6,310.8 113.3,312.9 112.6,314.65 113.65,316.4 114,318.1 113.3,320.2 112.6,322.3 113.65,324.4 114.7,327.2 115.75,329.3 117.15,331.75 118.9,334.55 117.5,336.3 118.9,337.35 121,339.1 122.05,341.2 122.05,342.95 121.7,345.4 123.8,344.7 126.6,344.7 130.1,345.05 133.6,345.4 137.1,345.75 140.6,347.4 143.4,348.5 146.2,349.9 147.95,349.9 149.7,348.5 151.8,347.1 153.9,346.75 156,347.8 158.1,348.85 160.9,349.2 163.7,348.85 165.8,349.55 167.2,350.95 168.6,352.7 167.9,354.8 167.9,356.9 166.5,358.65 164.4,359.7 163,360.75 161.6,362.15 160.5,364.1 161.9,366.2 160.5,368.3 157.7,370.05 159.1,371.45 161.2,371.8 163.3,371.1 164.7,371.45" fill="none" stroke="#2018d8" stroke-width="1.5" stroke-dasharray="2.4 0.6" stroke-linejoin="round" stroke-linecap="round"/><circle cx="170.3" cy="372.85" r="0.9" fill="#2018d8"/><circle cx="175.2" cy="374.45" r="0.9" fill="#2018d8"/><circle cx="178.7" cy="374.95" r="0.9" fill="#2018d8"/><circle cx="183.6" cy="376" r="0.9" fill="#2018d8"/><circle cx="187" cy="376.8" r="0.9" fill="#2018d8"/><circle cx="190.25" cy="377.55" r="0.9" fill="#2018d8"/><circle cx="193" cy="378.5" r="0.9" fill="#2018d8"/><circle cx="195.7" cy="379.55" r="0.9" fill="#2018d8"/><circle cx="198.5" cy="380.95" r="0.9" fill="#2018d8"/><circle cx="201.3" cy="382.35" r="0.9" fill="#2018d8"/><circle cx="204.1" cy="383.4" r="0.9" fill="#2018d8"/><circle cx="206.2" cy="384.45" r="0.9" fill="#2018d8"/><circle cx="209" cy="385.85" r="0.9" fill="#2018d8"/><circle cx="212.5" cy="387.95" r="0.9" fill="#2018d8"/><circle cx="216" cy="389.7" r="0.9" fill="#2018d8"/><circle cx="218.8" cy="391" r="0.9" fill="#2018d8"/><circle cx="221.6" cy="391.45" r="0.9" fill="#2018d8"/><circle cx="224.4" cy="391.8" r="0.9" fill="#2018d8"/><circle cx="227.2" cy="392.15" r="0.9" fill="#2018d8"/><circle cx="230" cy="392.85" r="0.9" fill="#2018d8"/><circle cx="232.1" cy="393.9" r="0.9" fill="#2018d8"/><circle cx="234.2" cy="395.3" r="0.9" fill="#2018d8"/><circle cx="233.5" cy="397.05" r="0.9" fill="#2018d8"/><circle cx="236.3" cy="398.8" r="0.9" fill="#2018d8"/><circle cx="238.75" cy="400.2" r="0.9" fill="#2018d8"/><circle cx="240.5" cy="401.95" r="0.9" fill="#2018d8"/><circle cx="242.6" cy="403.7" r="0.9" fill="#2018d8"/><circle cx="244" cy="405.8" r="0.9" fill="#2018d8"/><circle cx="244.7" cy="407.55" r="0.9" fill="#2018d8"/><circle cx="245" cy="409.5" r="0.9" fill="#2018d8"/><text class="b" x="140.68" y="258.7" font-size="10.75" font-weight="bold" text-anchor="middle" fill="#111">FPB (subject–independent)</text><text class="b" x="140.68" y="444.5" font-size="10.5" font-weight="bold" text-anchor="middle" fill="#111">Latent Factor 1</text><text class="b" x="0" y="0" transform="translate(15.3,345.6) rotate(-90)" font-size="10.5" font-weight="bold" text-anchor="middle" fill="#111">Latent Factor 2</text><text class="b" x="140.68" y="465" font-size="14" text-anchor="middle" fill="#1a1a1a" style="font-family:'Liberation Serif', serif">(d)</text></g>
<g><line x1="360.66" y1="263" x2="360.66" y2="429.2" stroke="#f2f2f2" stroke-width="1"/><line x1="308.1" y1="387.65" x2="518.35" y2="387.65" stroke="#f2f2f2" stroke-width="1"/><line x1="413.23" y1="263" x2="413.23" y2="429.2" stroke="#f2f2f2" stroke-width="1"/><line x1="308.1" y1="346.1" x2="518.35" y2="346.1" stroke="#f2f2f2" stroke-width="1"/><line x1="465.79" y1="263" x2="465.79" y2="429.2" stroke="#f2f2f2" stroke-width="1"/><line x1="308.1" y1="304.55" x2="518.35" y2="304.55" stroke="#f2f2f2" stroke-width="1"/><rect x="308.1" y="263" width="210.25" height="166.2" fill="none" stroke="#a8a8a8" stroke-width="1"/><line x1="308.1" y1="429.2" x2="308.1" y2="427.2" stroke="#a8a8a8" stroke-width="0.8"/><line x1="308.1" y1="263" x2="308.1" y2="265" stroke="#a8a8a8" stroke-width="0.8"/><line x1="308.1" y1="429.2" x2="310.1" y2="429.2" stroke="#a8a8a8" stroke-width="0.8"/><line x1="518.35" y1="429.2" x2="516.35" y2="429.2" stroke="#a8a8a8" stroke-width="0.8"/><line x1="360.66" y1="429.2" x2="360.66" y2="427.2" stroke="#a8a8a8" stroke-width="0.8"/><line x1="360.66" y1="263" x2="360.66" y2="265" stroke="#a8a8a8" stroke-width="0.8"/><line x1="308.1" y1="387.65" x2="310.1" y2="387.65" stroke="#a8a8a8" stroke-width="0.8"/><line x1="518.35" y1="387.65" x2="516.35" y2="387.65" stroke="#a8a8a8" stroke-width="0.8"/><line x1="413.23" y1="429.2" x2="413.23" y2="427.2" stroke="#a8a8a8" stroke-width="0.8"/><line x1="413.23" y1="263" x2="413.23" y2="265" stroke="#a8a8a8" stroke-width="0.8"/><line x1="308.1" y1="346.1" x2="310.1" y2="346.1" stroke="#a8a8a8" stroke-width="0.8"/><line x1="518.35" y1="346.1" x2="516.35" y2="346.1" stroke="#a8a8a8" stroke-width="0.8"/><line x1="465.79" y1="429.2" x2="465.79" y2="427.2" stroke="#a8a8a8" stroke-width="0.8"/><line x1="465.79" y1="263" x2="465.79" y2="265" stroke="#a8a8a8" stroke-width="0.8"/><line x1="308.1" y1="304.55" x2="310.1" y2="304.55" stroke="#a8a8a8" stroke-width="0.8"/><line x1="518.35" y1="304.55" x2="516.35" y2="304.55" stroke="#a8a8a8" stroke-width="0.8"/><line x1="518.35" y1="429.2" x2="518.35" y2="427.2" stroke="#a8a8a8" stroke-width="0.8"/><line x1="518.35" y1="263" x2="518.35" y2="265" stroke="#a8a8a8" stroke-width="0.8"/><line x1="308.1" y1="263" x2="310.1" y2="263" stroke="#a8a8a8" stroke-width="0.8"/><line x1="518.35" y1="263" x2="516.35" y2="263" stroke="#a8a8a8" stroke-width="0.8"/><text class="t" x="305.8" y="437.7" font-size="7" font-weight="bold" text-anchor="middle" fill="#222">−1</text><text class="t" x="306.5" y="431.7" font-size="7" font-weight="bold" text-anchor="end" fill="#222">−1</text><text class="t" x="358.36" y="437.7" font-size="7" font-weight="bold" text-anchor="middle" fill="#222">−0.5</text><text class="t" x="306.5" y="390.15" font-size="7" font-weight="bold" text-anchor="end" fill="#222">−0.5</text><text class="t" x="413.23" y="437.7" font-size="7" font-weight="bold" text-anchor="middle" fill="#222">0</text><text class="t" x="306.5" y="348.6" font-size="7" font-weight="bold" text-anchor="end" fill="#222">0</text><text class="t" x="465.79" y="437.7" font-size="7" font-weight="bold" text-anchor="middle" fill="#222">0.5</text><text class="t" x="306.5" y="307.05" font-size="7" font-weight="bold" text-anchor="end" fill="#222">0.5</text><text class="t" x="518.35" y="437.7" font-size="7" font-weight="bold" text-anchor="middle" fill="#222">1</text><text class="t" x="306.5" y="265.5" font-size="7" font-weight="bold" text-anchor="end" fill="#222">1</text><rect x="323.1" y="265.4" width="19.6" height="14" fill="none" stroke="#a5a5a5" stroke-width="0.9"/><text class="t" x="326" y="274.7" font-size="8.3" font-weight="bold" fill="#1a1a1a">A</text><rect x="485.3" y="402.6" width="19.1" height="14" fill="none" stroke="#a5a5a5" stroke-width="0.9"/><text class="t" x="487.8" y="411.9" font-size="8.3" font-weight="bold" fill="#1a1a1a">B</text><line x1="308.1" y1="346.5" x2="518.35" y2="346.5" stroke="#4a4a4a" stroke-width="1.1"/><line x1="413" y1="263" x2="413" y2="429.2" stroke="#1a1a1a" stroke-width="1.1"/><line x1="413" y1="346.5" x2="406.4" y2="267" stroke="#98363a" stroke-width="1.15"/><line x1="413" y1="346.5" x2="421" y2="263.4" stroke="#98363a" stroke-width="1.15"/><line x1="413" y1="346.5" x2="381.6" y2="284.25" stroke="#98363a" stroke-width="1.15"/><line x1="413" y1="346.5" x2="374.95" y2="291.6" stroke="#98363a" stroke-width="1.15"/><line x1="413" y1="346.5" x2="506" y2="348.4" stroke="#98363a" stroke-width="1.15"/><line x1="413" y1="346.5" x2="511" y2="349.6" stroke="#98363a" stroke-width="1.15"/><line x1="413" y1="346.5" x2="509" y2="350.6" stroke="#98363a" stroke-width="1.15"/><line x1="413" y1="346.5" x2="511" y2="351.6" stroke="#98363a" stroke-width="1.15"/><line x1="413" y1="346.5" x2="509.5" y2="352.8" stroke="#98363a" stroke-width="1.15"/><line x1="413" y1="346.5" x2="506.6" y2="357.2" stroke="#98363a" stroke-width="1.15"/><text class="t" x="401" y="274.1" font-size="7.5" font-weight="bold" text-anchor="middle" fill="#222">6</text><text class="t" x="426.4" y="272.3" font-size="7.5" font-weight="bold" text-anchor="middle" fill="#222">8</text><text class="t" x="385.1" y="286.25" font-size="7.5" font-weight="bold" text-anchor="middle" fill="#222">7</text><text class="t" x="378.1" y="293.2" font-size="7.5" font-weight="bold" text-anchor="middle" fill="#222">3</text><text class="t" x="501.9" y="345" font-size="7.5" font-weight="bold" text-anchor="middle" fill="#222">2</text><text class="t" x="512" y="347.5" font-size="7.5" font-weight="bold" text-anchor="middle" fill="#222">4</text><text class="t" x="514.8" y="354.7" font-size="7.5" font-weight="bold" text-anchor="middle" fill="#222">5</text><text class="t" x="514.5" y="360.4" font-size="7.5" font-weight="bold" text-anchor="middle" fill="#222">9</text><text class="t" x="507" y="363.9" font-size="7.5" font-weight="bold" text-anchor="middle" fill="#222">1</text><polyline points="360.95,283.55 361.65,285.65 363.05,287.75 363.4,289.5 365.5,291.6 367.6,294.05 369.35,296.5 371.45,298.6 373.55,299.3 376,300.7 378.1,302.8 380.2,304.9 381.25,306.65 380.55,308.4 380.25,309.8 379.2,311.9 378.15,314 375.7,315.75 375.35,318.2 376.4,321 378.5,322.05 380.95,321 383.05,319.95 385.5,319.45 388.3,319.95 390.4,321 391.1,323.1 393.2,324.85 396,326.95 398.8,327.65 401.6,327.3 403.7,328.7 405.1,330.8 407.2,333.25 407.9,335 406.15,336.75 405.3,339.9 404.95,342 406,344.1 406,345.85 403.9,346.9 402.5,348.3 402.15,350.75 403.55,353.55 402.15,354.95 400.05,355.65 401.8,357.05 403.55,359.5 403.4,362.35 404.8,364.8 406.2,367.25 408.3,369.7 409.35,372.5 411.1,375.65 413.55,378.1 416,380.2 418.45,382.3 419.5,384.4 418.45,387.2 417.05,389.65 417.4,391.4 419.85,392.8 422.5,395 425,397 428,398 430,397.8 432.5,397.5 435,397.5" fill="none" stroke="#2018d8" stroke-width="1.5" stroke-dasharray="2.4 0.6" stroke-linejoin="round" stroke-linecap="round"/><circle cx="439.5" cy="398" r="0.9" fill="#2018d8"/><circle cx="445.5" cy="398.5" r="0.9" fill="#2018d8"/><circle cx="452" cy="399" r="0.9" fill="#2018d8"/><circle cx="457.5" cy="399" r="0.9" fill="#2018d8"/><circle cx="462.5" cy="398.5" r="0.9" fill="#2018d8"/><circle cx="465.5" cy="397.8" r="0.9" fill="#2018d8"/><circle cx="469" cy="397.5" r="0.9" fill="#2018d8"/><circle cx="474.5" cy="397.2" r="0.9" fill="#2018d8"/><circle cx="479.5" cy="397" r="0.9" fill="#2018d8"/><circle cx="484.5" cy="396.8" r="0.9" fill="#2018d8"/><circle cx="487" cy="396.8" r="0.9" fill="#2018d8"/><text class="b" x="413.23" y="257.3" font-size="10.75" font-weight="bold" text-anchor="middle" fill="#111">FDS3 (subject–independent)</text><text class="b" x="413.23" y="447" font-size="10.5" font-weight="bold" text-anchor="middle" fill="#111">Latent Factor 1</text><text class="b" x="0" y="0" transform="translate(288.3,346.1) rotate(-90)" font-size="10.5" font-weight="bold" text-anchor="middle" fill="#111">Latent Factor 2</text><text class="b" x="413.23" y="465.3" font-size="14" text-anchor="middle" fill="#1a1a1a" style="font-family:'Liberation Serif', serif">(e)</text></g>
<g><line x1="596.09" y1="261.5" x2="596.09" y2="430.8" stroke="#f2f2f2" stroke-width="1"/><line x1="578.5" y1="416.69" x2="789.6" y2="416.69" stroke="#f2f2f2" stroke-width="1"/><line x1="640.07" y1="261.5" x2="640.07" y2="430.8" stroke="#f2f2f2" stroke-width="1"/><line x1="578.5" y1="381.42" x2="789.6" y2="381.42" stroke="#f2f2f2" stroke-width="1"/><line x1="684.05" y1="261.5" x2="684.05" y2="430.8" stroke="#f2f2f2" stroke-width="1"/><line x1="578.5" y1="346.15" x2="789.6" y2="346.15" stroke="#f2f2f2" stroke-width="1"/><line x1="728.03" y1="261.5" x2="728.03" y2="430.8" stroke="#f2f2f2" stroke-width="1"/><line x1="578.5" y1="310.88" x2="789.6" y2="310.88" stroke="#f2f2f2" stroke-width="1"/><line x1="772.01" y1="261.5" x2="772.01" y2="430.8" stroke="#f2f2f2" stroke-width="1"/><line x1="578.5" y1="275.61" x2="789.6" y2="275.61" stroke="#f2f2f2" stroke-width="1"/><rect x="578.5" y="261.5" width="211.1" height="169.3" fill="none" stroke="#a8a8a8" stroke-width="1"/><line x1="596.09" y1="430.8" x2="596.09" y2="428.8" stroke="#a8a8a8" stroke-width="0.8"/><line x1="596.09" y1="261.5" x2="596.09" y2="263.5" stroke="#a8a8a8" stroke-width="0.8"/><line x1="578.5" y1="416.69" x2="580.5" y2="416.69" stroke="#a8a8a8" stroke-width="0.8"/><line x1="789.6" y1="416.69" x2="787.6" y2="416.69" stroke="#a8a8a8" stroke-width="0.8"/><line x1="640.07" y1="430.8" x2="640.07" y2="428.8" stroke="#a8a8a8" stroke-width="0.8"/><line x1="640.07" y1="261.5" x2="640.07" y2="263.5" stroke="#a8a8a8" stroke-width="0.8"/><line x1="578.5" y1="381.42" x2="580.5" y2="381.42" stroke="#a8a8a8" stroke-width="0.8"/><line x1="789.6" y1="381.42" x2="787.6" y2="381.42" stroke="#a8a8a8" stroke-width="0.8"/><line x1="684.05" y1="430.8" x2="684.05" y2="428.8" stroke="#a8a8a8" stroke-width="0.8"/><line x1="684.05" y1="261.5" x2="684.05" y2="263.5" stroke="#a8a8a8" stroke-width="0.8"/><line x1="578.5" y1="346.15" x2="580.5" y2="346.15" stroke="#a8a8a8" stroke-width="0.8"/><line x1="789.6" y1="346.15" x2="787.6" y2="346.15" stroke="#a8a8a8" stroke-width="0.8"/><line x1="728.03" y1="430.8" x2="728.03" y2="428.8" stroke="#a8a8a8" stroke-width="0.8"/><line x1="728.03" y1="261.5" x2="728.03" y2="263.5" stroke="#a8a8a8" stroke-width="0.8"/><line x1="578.5" y1="310.88" x2="580.5" y2="310.88" stroke="#a8a8a8" stroke-width="0.8"/><line x1="789.6" y1="310.88" x2="787.6" y2="310.88" stroke="#a8a8a8" stroke-width="0.8"/><line x1="772.01" y1="430.8" x2="772.01" y2="428.8" stroke="#a8a8a8" stroke-width="0.8"/><line x1="772.01" y1="261.5" x2="772.01" y2="263.5" stroke="#a8a8a8" stroke-width="0.8"/><line x1="578.5" y1="275.61" x2="580.5" y2="275.61" stroke="#a8a8a8" stroke-width="0.8"/><line x1="789.6" y1="275.61" x2="787.6" y2="275.61" stroke="#a8a8a8" stroke-width="0.8"/><text class="t" x="593.79" y="439.3" font-size="7" font-weight="bold" text-anchor="middle" fill="#222">−1</text><text class="t" x="576.9" y="419.19" font-size="7" font-weight="bold" text-anchor="end" fill="#222">−1</text><text class="t" x="637.77" y="439.3" font-size="7" font-weight="bold" text-anchor="middle" fill="#222">−0.5</text><text class="t" x="576.9" y="383.92" font-size="7" font-weight="bold" text-anchor="end" fill="#222">−0.5</text><text class="t" x="684.05" y="439.3" font-size="7" font-weight="bold" text-anchor="middle" fill="#222">0</text><text class="t" x="576.9" y="348.65" font-size="7" font-weight="bold" text-anchor="end" fill="#222">0</text><text class="t" x="728.03" y="439.3" font-size="7" font-weight="bold" text-anchor="middle" fill="#222">0.5</text><text class="t" x="576.9" y="313.38" font-size="7" font-weight="bold" text-anchor="end" fill="#222">0.5</text><text class="t" x="772.01" y="439.3" font-size="7" font-weight="bold" text-anchor="middle" fill="#222">1</text><text class="t" x="576.9" y="278.11" font-size="7" font-weight="bold" text-anchor="end" fill="#222">1</text><rect x="593.1" y="272.35" width="19.3" height="14.05" fill="none" stroke="#a5a5a5" stroke-width="0.9"/><text class="t" x="596" y="281.68" font-size="8.3" font-weight="bold" fill="#1a1a1a">A</text><rect x="655.3" y="398.35" width="19.1" height="14.05" fill="none" stroke="#a5a5a5" stroke-width="0.9"/><text class="t" x="657.8" y="407.68" font-size="8.3" font-weight="bold" fill="#1a1a1a">B</text><line x1="578.5" y1="346.5" x2="789.6" y2="346.5" stroke="#c2c2c2" stroke-width="1.1"/><line x1="684" y1="261.5" x2="684" y2="430.8" stroke="#c2c2c2" stroke-width="1.1"/><line x1="684" y1="346.5" x2="667.6" y2="288.4" stroke="#98363a" stroke-width="1.15"/><line x1="684" y1="346.5" x2="683.2" y2="276" stroke="#98363a" stroke-width="1.15"/><line x1="684" y1="346.5" x2="686.2" y2="275.3" stroke="#98363a" stroke-width="1.15"/><line x1="684" y1="346.5" x2="696" y2="278.4" stroke="#98363a" stroke-width="1.15"/><line x1="684" y1="346.5" x2="773.5" y2="342.4" stroke="#98363a" stroke-width="1.15"/><line x1="684" y1="346.5" x2="773.3" y2="343.8" stroke="#98363a" stroke-width="1.15"/><line x1="684" y1="346.5" x2="773" y2="345.2" stroke="#98363a" stroke-width="1.15"/><line x1="684" y1="346.5" x2="772.5" y2="346.5" stroke="#98363a" stroke-width="1.15"/><line x1="684" y1="346.5" x2="771" y2="347.6" stroke="#98363a" stroke-width="1.15"/><line x1="684" y1="346.5" x2="762.3" y2="349.1" stroke="#98363a" stroke-width="1.15"/><text class="t" x="670.4" y="289.7" font-size="7.5" font-weight="bold" text-anchor="middle" fill="#222">3</text><text class="t" x="679.7" y="278.5" font-size="7.5" font-weight="bold" text-anchor="middle" fill="#222">6</text><text class="t" x="689" y="276.9" font-size="7.5" font-weight="bold" text-anchor="middle" fill="#222">7</text><text class="t" x="699" y="280.3" font-size="7.5" font-weight="bold" text-anchor="middle" fill="#222">8</text><text class="t" x="765.3" y="340.2" font-size="7.5" font-weight="bold" text-anchor="middle" fill="#222">9</text><text class="t" x="781" y="347" font-size="7.5" font-weight="bold" text-anchor="middle" fill="#222">5</text><text class="t" x="777.6" y="353" font-size="7.5" font-weight="bold" text-anchor="middle" fill="#222">1</text><text class="t" x="771.3" y="357.5" font-size="7.5" font-weight="bold" text-anchor="middle" fill="#222">4</text><text class="t" x="756.3" y="359.3" font-size="7.5" font-weight="bold" text-anchor="middle" fill="#222">2</text><circle cx="608.3" cy="276.8" r="1.05" fill="#2018d8"/><circle cx="615.5" cy="278.3" r="1.05" fill="#2018d8"/><circle cx="620.5" cy="279" r="1.05" fill="#2018d8"/><circle cx="622" cy="280" r="1.05" fill="#2018d8"/><circle cx="623" cy="280.5" r="1.05" fill="#2018d8"/><circle cx="633" cy="282.3" r="1.05" fill="#2018d8"/><circle cx="639" cy="285" r="1.05" fill="#2018d8"/><circle cx="642.5" cy="286.3" r="1.05" fill="#2018d8"/><circle cx="644" cy="286.8" r="1.05" fill="#2018d8"/><circle cx="650.5" cy="288.3" r="1.05" fill="#2018d8"/><circle cx="657.5" cy="290.5" r="1.05" fill="#2018d8"/><circle cx="661.5" cy="290" r="1.05" fill="#2018d8"/><circle cx="663.5" cy="290.8" r="1.05" fill="#2018d8"/><circle cx="665" cy="291.5" r="1.05" fill="#2018d8"/><circle cx="667.5" cy="291.5" r="1.05" fill="#2018d8"/><circle cx="670.5" cy="289.5" r="1.05" fill="#2018d8"/><circle cx="674.5" cy="289" r="1.05" fill="#2018d8"/><circle cx="677" cy="289.5" r="1.05" fill="#2018d8"/><circle cx="682" cy="290.5" r="1.05" fill="#2018d8"/><circle cx="685" cy="290.5" r="1.05" fill="#2018d8"/><circle cx="689.5" cy="291.5" r="1.05" fill="#2018d8"/><circle cx="698" cy="292.8" r="1.05" fill="#2018d8"/><circle cx="703.5" cy="294" r="1.05" fill="#2018d8"/><circle cx="708" cy="294" r="1.05" fill="#2018d8"/><circle cx="711" cy="294" r="1.05" fill="#2018d8"/><circle cx="711.5" cy="295" r="1.05" fill="#2018d8"/><circle cx="713.5" cy="294" r="1.05" fill="#2018d8"/><circle cx="716" cy="296" r="1.05" fill="#2018d8"/><circle cx="717" cy="294.5" r="1.05" fill="#2018d8"/><circle cx="723" cy="296.5" r="1.05" fill="#2018d8"/><circle cx="726.5" cy="298.5" r="1.05" fill="#2018d8"/><circle cx="729.5" cy="299" r="1.05" fill="#2018d8"/><circle cx="732.5" cy="300" r="1.05" fill="#2018d8"/><circle cx="735.5" cy="301" r="1.05" fill="#2018d8"/><circle cx="737" cy="302.5" r="1.05" fill="#2018d8"/><circle cx="733.5" cy="305" r="1.05" fill="#2018d8"/><circle cx="738.5" cy="307.5" r="1.05" fill="#2018d8"/><circle cx="741" cy="308.5" r="1.05" fill="#2018d8"/><circle cx="743" cy="309.5" r="1.05" fill="#2018d8"/><circle cx="745.5" cy="311" r="1.05" fill="#2018d8"/><circle cx="743.5" cy="312.5" r="1.05" fill="#2018d8"/><circle cx="745.5" cy="314" r="1.05" fill="#2018d8"/><circle cx="743.5" cy="315.5" r="1.05" fill="#2018d8"/><circle cx="745" cy="317.8" r="1.05" fill="#2018d8"/><circle cx="743" cy="319" r="1.05" fill="#2018d8"/><circle cx="739" cy="320.5" r="1.05" fill="#2018d8"/><circle cx="738.5" cy="323" r="1.05" fill="#2018d8"/><circle cx="736.5" cy="326" r="1.05" fill="#2018d8"/><circle cx="732.5" cy="325.5" r="1.05" fill="#2018d8"/><circle cx="727.5" cy="325" r="1.05" fill="#2018d8"/><circle cx="724.5" cy="327" r="1.05" fill="#2018d8"/><circle cx="719.5" cy="329" r="1.05" fill="#2018d8"/><circle cx="715" cy="330" r="1.05" fill="#2018d8"/><circle cx="710.5" cy="332" r="1.05" fill="#2018d8"/><circle cx="720" cy="335" r="1.05" fill="#2018d8"/><circle cx="718.5" cy="337.5" r="1.05" fill="#2018d8"/><circle cx="717" cy="338.5" r="1.05" fill="#2018d8"/><circle cx="713" cy="338.5" r="1.05" fill="#2018d8"/><circle cx="706.5" cy="338.5" r="1.05" fill="#2018d8"/><circle cx="702.5" cy="340.5" r="1.05" fill="#2018d8"/><circle cx="700.5" cy="341.5" r="1.05" fill="#2018d8"/><circle cx="696.5" cy="343.2" r="1.05" fill="#2018d8"/><circle cx="695.5" cy="346" r="1.05" fill="#2018d8"/><circle cx="695" cy="349" r="1.05" fill="#2018d8"/><circle cx="694.5" cy="350" r="1.05" fill="#2018d8"/><circle cx="694" cy="354" r="1.05" fill="#2018d8"/><circle cx="694" cy="356" r="1.05" fill="#2018d8"/><circle cx="690.5" cy="349.5" r="1.05" fill="#2018d8"/><circle cx="689" cy="356.5" r="1.05" fill="#2018d8"/><circle cx="689" cy="358" r="1.05" fill="#2018d8"/><circle cx="687.5" cy="355" r="1.05" fill="#2018d8"/><circle cx="685" cy="355.5" r="1.05" fill="#2018d8"/><circle cx="683" cy="354.5" r="1.05" fill="#2018d8"/><circle cx="677.5" cy="354.5" r="1.05" fill="#2018d8"/><circle cx="672.5" cy="353" r="1.05" fill="#2018d8"/><circle cx="666" cy="350.5" r="1.05" fill="#2018d8"/><circle cx="650.5" cy="350" r="1.05" fill="#2018d8"/><circle cx="644.5" cy="350.5" r="1.05" fill="#2018d8"/><circle cx="637" cy="349.5" r="1.05" fill="#2018d8"/><circle cx="630" cy="348.5" r="1.05" fill="#2018d8"/><circle cx="625" cy="348.5" r="1.05" fill="#2018d8"/><circle cx="618.5" cy="347.5" r="1.05" fill="#2018d8"/><circle cx="611" cy="347" r="1.05" fill="#2018d8"/><circle cx="609" cy="349" r="1.05" fill="#2018d8"/><circle cx="607" cy="351" r="1.05" fill="#2018d8"/><circle cx="604" cy="352" r="1.05" fill="#2018d8"/><circle cx="600.5" cy="353" r="1.05" fill="#2018d8"/><circle cx="597.5" cy="353" r="1.05" fill="#2018d8"/><circle cx="591.5" cy="354.5" r="1.05" fill="#2018d8"/><circle cx="590" cy="357.5" r="1.05" fill="#2018d8"/><circle cx="582" cy="354.5" r="1.05" fill="#2018d8"/><circle cx="578.5" cy="353" r="1.05" fill="#2018d8"/><circle cx="596" cy="357.5" r="1.05" fill="#2018d8"/><circle cx="602.5" cy="357.5" r="1.05" fill="#2018d8"/><circle cx="604" cy="356.5" r="1.05" fill="#2018d8"/><circle cx="611" cy="358" r="1.05" fill="#2018d8"/><circle cx="619" cy="360" r="1.05" fill="#2018d8"/><circle cx="630.5" cy="361.5" r="1.05" fill="#2018d8"/><circle cx="637.5" cy="363.5" r="1.05" fill="#2018d8"/><circle cx="646.5" cy="364.5" r="1.05" fill="#2018d8"/><circle cx="653" cy="363.5" r="1.05" fill="#2018d8"/><circle cx="661.5" cy="364.5" r="1.05" fill="#2018d8"/><circle cx="672.5" cy="366.5" r="1.05" fill="#2018d8"/><circle cx="683.5" cy="369" r="1.05" fill="#2018d8"/><circle cx="689.5" cy="371.5" r="1.05" fill="#2018d8"/><circle cx="694.5" cy="373.5" r="1.05" fill="#2018d8"/><circle cx="697" cy="374" r="1.05" fill="#2018d8"/><circle cx="699.5" cy="374" r="1.05" fill="#2018d8"/><circle cx="705" cy="374.5" r="1.05" fill="#2018d8"/><circle cx="709.5" cy="374.5" r="1.05" fill="#2018d8"/><circle cx="714" cy="374.5" r="1.05" fill="#2018d8"/><circle cx="715.5" cy="374" r="1.05" fill="#2018d8"/><circle cx="717.5" cy="373" r="1.05" fill="#2018d8"/><circle cx="719" cy="372.5" r="1.05" fill="#2018d8"/><circle cx="720.5" cy="373" r="1.05" fill="#2018d8"/><circle cx="721.5" cy="374" r="1.05" fill="#2018d8"/><circle cx="726.5" cy="374" r="1.05" fill="#2018d8"/><circle cx="729.5" cy="374" r="1.05" fill="#2018d8"/><circle cx="731.5" cy="374" r="1.05" fill="#2018d8"/><circle cx="735" cy="375" r="1.05" fill="#2018d8"/><circle cx="739.5" cy="374.5" r="1.05" fill="#2018d8"/><circle cx="716" cy="378" r="1.05" fill="#2018d8"/><circle cx="721.5" cy="380.5" r="1.05" fill="#2018d8"/><circle cx="724.5" cy="382.5" r="1.05" fill="#2018d8"/><circle cx="725.5" cy="384.5" r="1.05" fill="#2018d8"/><circle cx="722" cy="385.5" r="1.05" fill="#2018d8"/><circle cx="720.5" cy="387" r="1.05" fill="#2018d8"/><circle cx="717.5" cy="388.5" r="1.05" fill="#2018d8"/><circle cx="712.5" cy="389.3" r="1.05" fill="#2018d8"/><circle cx="707" cy="390" r="1.05" fill="#2018d8"/><circle cx="706" cy="387.5" r="1.05" fill="#2018d8"/><circle cx="702" cy="391" r="1.05" fill="#2018d8"/><circle cx="698" cy="391" r="1.05" fill="#2018d8"/><circle cx="694" cy="392" r="1.05" fill="#2018d8"/><circle cx="692.5" cy="392.5" r="1.05" fill="#2018d8"/><circle cx="688.5" cy="391.5" r="1.05" fill="#2018d8"/><circle cx="684.5" cy="390.5" r="1.05" fill="#2018d8"/><circle cx="682.5" cy="391.5" r="1.05" fill="#2018d8"/><circle cx="679.5" cy="393" r="1.05" fill="#2018d8"/><circle cx="678.5" cy="394" r="1.05" fill="#2018d8"/><circle cx="681.5" cy="396" r="1.05" fill="#2018d8"/><circle cx="683" cy="398" r="1.05" fill="#2018d8"/><circle cx="684.5" cy="398" r="1.05" fill="#2018d8"/><circle cx="692" cy="398" r="1.05" fill="#2018d8"/><circle cx="691" cy="400.5" r="1.05" fill="#2018d8"/><circle cx="689" cy="403" r="1.05" fill="#2018d8"/><circle cx="688.5" cy="404" r="1.05" fill="#2018d8"/><circle cx="684" cy="404" r="1.05" fill="#2018d8"/><circle cx="679" cy="404" r="1.05" fill="#2018d8"/><circle cx="674.5" cy="406.5" r="1.05" fill="#2018d8"/><circle cx="678" cy="412" r="1.05" fill="#2018d8"/><text class="b" x="684.05" y="256" font-size="10.75" font-weight="bold" text-anchor="middle" fill="#111">EPL (subject–independent)</text><text class="b" x="684.05" y="449" font-size="10.5" font-weight="bold" text-anchor="middle" fill="#111">Latent Factor 1</text><text class="b" x="0" y="0" transform="translate(558.3,346.15) rotate(-90)" font-size="10.5" font-weight="bold" text-anchor="middle" fill="#111">Latent Factor 2</text><text class="b" x="684.05" y="465.3" font-size="14" text-anchor="middle" fill="#1a1a1a" style="font-family:'Liberation Serif', serif">(f)</text></g>
</svg></body></html>
